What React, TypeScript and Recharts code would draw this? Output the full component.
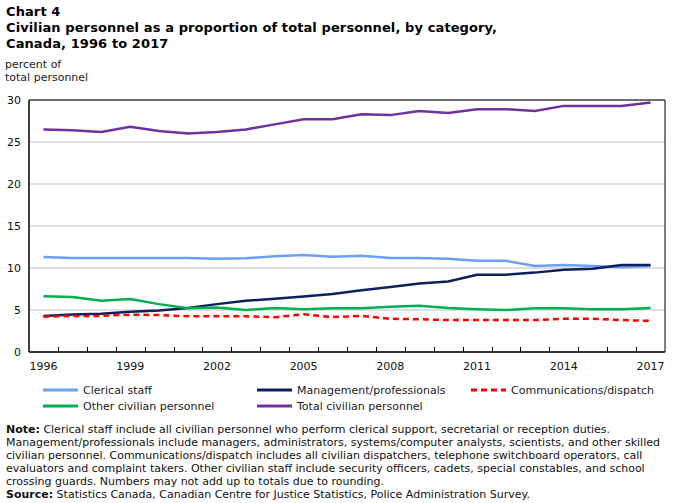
import { LineChart, Line, XAxis, YAxis, CartesianGrid, ReferenceArea } from 'recharts';

const years = [
  '1996', '1997', '1998', '1999', '2000', '2001', '2002', '2003', '2004', '2005', '2006',
  '2007', '2008', '2009', '2010', '2011', '2012', '2013', '2014', '2015', '2016', '2017',
];
const clerical = [11.3, 11.2, 11.2, 11.2, 11.2, 11.2, 11.1, 11.15, 11.4, 11.55, 11.35, 11.45, 11.2, 11.2, 11.1, 10.85, 10.85, 10.25, 10.35, 10.25, 10.1, 10.25];
const management = [4.3, 4.45, 4.55, 4.8, 4.95, 5.25, 5.7, 6.1, 6.35, 6.6, 6.9, 7.35, 7.75, 8.15, 8.4, 9.2, 9.2, 9.45, 9.8, 9.9, 10.35, 10.35];
const communications = [4.2, 4.3, 4.3, 4.45, 4.4, 4.25, 4.25, 4.25, 4.15, 4.5, 4.15, 4.3, 3.95, 3.9, 3.8, 3.8, 3.8, 3.8, 3.95, 3.95, 3.8, 3.7];
const otherCivilian = [6.65, 6.55, 6.1, 6.3, 5.7, 5.2, 5.3, 5.0, 5.25, 5.1, 5.2, 5.2, 5.4, 5.5, 5.25, 5.1, 5.0, 5.2, 5.2, 5.1, 5.1, 5.25];
const totalCivilian = [26.5, 26.4, 26.2, 26.8, 26.3, 26.0, 26.2, 26.5, 27.1, 27.7, 27.7, 28.3, 28.2, 28.7, 28.45, 28.9, 28.9, 28.7, 29.3, 29.3, 29.3, 29.7];
const yTicks = [0, 5, 10, 15, 20, 25, 30];

const data = years.map((year, i) => ({
  year,
  clerical: clerical[i],
  management: management[i],
  communications: communications[i],
  otherCivilian: otherCivilian[i],
  totalCivilian: totalCivilian[i],
}));

const FONT = '"DejaVu Sans", Verdana, sans-serif';
const CHART_W = 676;
const MARGIN = { top: 100, right: 11, left: 0, bottom: 0 };
const Y_AXIS_W = 29;
const PLOT_W = CHART_W - MARGIN.left - MARGIN.right - Y_AXIS_W;

const series = [
  { key: 'clerical', name: 'Clerical staff', color: '#6aa0f4', dash: undefined },
  { key: 'management', name: 'Management/professionals', color: '#0d1f5c', dash: undefined },
  { key: 'communications', name: 'Communications/dispatch', color: '#ff0000', dash: '6 4' },
  { key: 'otherCivilian', name: 'Other civilian personnel', color: '#00b050', dash: undefined },
  { key: 'totalCivilian', name: 'Total civilian personnel', color: '#7030a0', dash: undefined },
];

// year labels every third year, plus a short inward tick at each band edge
function YearTick(props: any) {
  const { x, y, payload, index } = props;
  const half = PLOT_W / years.length / 2;
  const tx = Math.round(Number(x) + half) + 0.5;
  const axisY = Number(y) - 8;
  const showLabel = index % 3 === 0;
  return (
    <g>
      {index < years.length - 1 && (
        <path d={`M${tx},${axisY} V${axisY - 5}`} stroke="#000" strokeWidth={1} fill="none" />
      )}
      {showLabel && (
        <text x={x} y={y + 2} dy="0.71em" textAnchor="middle" fontSize={11} fill="#111" fontFamily={FONT}>
          {payload.value}
        </text>
      )}
    </g>
  );
}

const legendItems = [
  { s: series[0], left: 43, top: 383 },
  { s: series[1], left: 257, top: 383 },
  { s: series[2], left: 471, top: 383 },
  { s: series[3], left: 43, top: 399 },
  { s: series[4], left: 257, top: 399 },
];

export default function App() {
  return (
    <div
      style={{
        position: 'absolute',
        top: 0,
        left: 0,
        width: 676,
        height: 503,
        background: '#fff',
        fontFamily: FONT,
        color: '#000',
        overflow: 'hidden',
      }}
    >
      <div style={{ position: 'absolute', left: 6, top: 4, fontSize: 13, fontWeight: 'bold', lineHeight: '16px', letterSpacing: 0.1 }}>
        Chart 4
        <br />
        Civilian personnel as a proportion of total personnel, by category,
        <br />
        Canada, 1996 to 2017
      </div>
      <div style={{ position: 'absolute', left: 5, top: 58, fontSize: 11, lineHeight: '13px', color: '#222' }}>
        percent of
        <br />
        total personnel
      </div>

      <div style={{ position: 'absolute', left: 0, top: 0 }}>
        <LineChart width={CHART_W} height={380} data={data} margin={MARGIN}>
          <CartesianGrid vertical={false} stroke="#bdbdbd" />
          {/* plot frame */}
          <ReferenceArea x1="1996" x2="2017" y1={0} y2={30} fill="none" stroke="#000" strokeWidth={1} ifOverflow="visible" />
          <XAxis
            dataKey="year"
            scale="band"
            height={28}
            interval={0}
            tickLine={false}
            axisLine={{ stroke: '#000' }}
            tick={(p: any) => <YearTick {...p} />}
          />
          <YAxis
            width={Y_AXIS_W}
            domain={[0, 30]}
            ticks={yTicks}
            tickLine={false}
            axisLine={{ stroke: '#000' }}
            tick={{ fontSize: 11, fill: '#111', fontFamily: FONT }}
          />
          {series.map((s) => (
            <Line
              key={s.key}
              dataKey={s.key}
              name={s.name}
              stroke={s.color}
              strokeWidth={2.5}
              strokeDasharray={s.dash}
              dot={false}
              activeDot={false}
              isAnimationActive={false}
            />
          ))}
        </LineChart>
      </div>

      {legendItems.map(({ s, left, top }) => (
        <div key={s.key} style={{ position: 'absolute', left, top, display: 'flex', alignItems: 'center', fontSize: 11, color: '#222', whiteSpace: 'nowrap' }}>
          <svg width={36} height={14}>
            <line x1={0} x2={35} y1={7} y2={7} stroke={s.color} strokeWidth={3} strokeDasharray={s.dash} />
          </svg>
          <span style={{ marginLeft: 4 }}>{s.name}</span>
        </div>
      ))}

      <div style={{ position: 'absolute', left: 6, top: 423, fontSize: 11, lineHeight: '13px', color: '#111', whiteSpace: 'nowrap' }}>
        <b>Note:</b> Clerical staff include all civilian personnel who perform clerical support, secretarial or reception duties.
        <br />
        Management/professionals include managers, administrators, systems/computer analysts, scientists, and other skilled
        <br />
        civilian personnel. Communications/dispatch includes all civilian dispatchers, telephone switchboard operators, call
        <br />
        evaluators and complaint takers. Other civilian staff include security officers, cadets, special constables, and school
        <br />
        crossing guards. Numbers may not add up to totals due to rounding.
        <br />
        <b>Source:</b> Statistics Canada, Canadian Centre for Justice Statistics, Police Administration Survey.
      </div>
    </div>
  );
}
